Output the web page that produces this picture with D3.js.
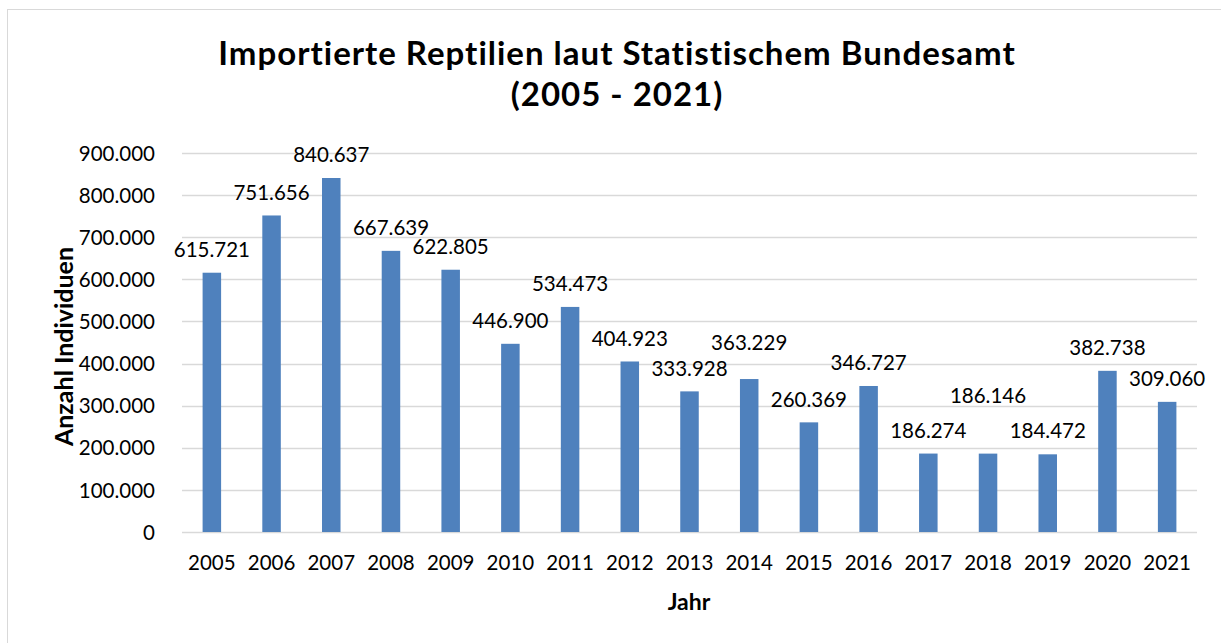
<!DOCTYPE html>
<html>
<head>
<meta charset="utf-8">
<script src="https://cdn.jsdelivr.net/npm/d3@7"></script>
<style>
  body { margin: 0; background: #fff; }
  text { font-family: Lato, "Open Sans", sans-serif; fill: #000; }
</style>
</head>
<body>
<div id="chart"></div>
<script>
// data -----------------------------
var years = ['2005', '2006', '2007', '2008', '2009', '2010', '2011', '2012', '2013',
  '2014', '2015', '2016', '2017', '2018', '2019', '2020', '2021'];
var imports = [615721, 751656, 840637, 667639, 622805, 446900, 534473, 404923, 333928,
  363229, 260369, 346727, 186274, 186146, 184472, 382738, 309060];
var yTicks = [0, 100000, 200000, 300000, 400000, 500000, 600000, 700000, 800000, 900000];

var width = 1221,
  height = 643;
var margin = { left: 182, right: 24, top: 153, bottom: 111 };

// labels that were dragged up by hand in the original to avoid overlaps
var labelLift = { '2014': 13, '2018': 35 };

// german number format with dot as thousands separator
var de = d3.formatLocale({ decimal: ',', thousands: '.', grouping: [3], currency: ['', ' €'] });
var fmt = de.format(',');

var svg = d3.select('#chart').append('svg')
  .attr('width', width)
  .attr('height', height);

// chart frame
svg.append('rect')
  .attr('x', 7.5).attr('y', 9.5)
  .attr('width', width + 10).attr('height', height + 10)
  .attr('fill', 'none')
  .attr('stroke', '#d9d9d9');

var x = d3.scaleBand()
  .domain(years)
  .range([margin.left, width - margin.right])
  .paddingInner(0.69)
  .paddingOuter(0.345);

var y = d3.scaleLinear()
  .domain([0, 900000])
  .range([height - margin.bottom, margin.top]);

// gridlines
svg.append('g')
  .selectAll('line')
  .data(yTicks)
  .enter()
  .append('line')
  .attr('x1', margin.left)
  .attr('x2', width - margin.right)
  .attr('y1', function (d) { return Math.round(y(d)) + 0.5; })
  .attr('y2', function (d) { return Math.round(y(d)) + 0.5; })
  .attr('stroke', '#d9d9d9')
  .attr('stroke-width', 1.5);

// y axis labels
var yAxis = svg.append('g')
  .attr('transform', 'translate(' + (margin.left - 24) + ',0)')
  .call(d3.axisLeft(y).tickValues(yTicks).tickFormat(fmt).tickSize(0));
yAxis.select('.domain').remove();
yAxis.selectAll('text')
  .attr('font-size', 20.5)
  .attr('dy', '0.35em')
  .style('font-family', 'Lato, sans-serif');

// x axis labels
var xAxis = svg.append('g')
  .attr('transform', 'translate(0,' + (height - margin.bottom) + ')')
  .call(d3.axisBottom(x).tickSize(0));
xAxis.select('.domain').remove();
xAxis.selectAll('text')
  .attr('font-size', 20.5)
  .attr('y', 23)
  .attr('dy', '0.71em')
  .style('font-family', 'Lato, sans-serif');

// bars
svg.append('g')
  .selectAll('rect')
  .data(imports)
  .enter()
  .append('rect')
  .attr('x', function (d, i) { return x(years[i]); })
  .attr('y', function (d) { return y(d); })
  .attr('width', x.bandwidth())
  .attr('height', function (d) { return y(0) - y(d); })
  .attr('fill', '#4f81bd');

// value labels
svg.append('g')
  .selectAll('text')
  .data(imports)
  .enter()
  .append('text')
  .attr('x', function (d, i) { return x(years[i]) + x.bandwidth() / 2; })
  .attr('y', function (d, i) { return y(d) - 23 - (labelLift[years[i]] || 0); })
  .attr('dy', '0.35em')
  .attr('text-anchor', 'middle')
  .attr('font-size', 20.5)
  .text(function (d) { return fmt(d); });

// title
var title = svg.append('text')
  .attr('x', 617)
  .attr('y', 65)
  .attr('text-anchor', 'middle')
  .attr('font-size', 33)
  .attr('font-weight', 'bold')
  .style('letter-spacing', '1px');
title.append('tspan').attr('x', 617).text('Importierte Reptilien laut Statistischem Bundesamt');
title.append('tspan').attr('x', 617).attr('dy', 41).text('(2005 - 2021)');

// axis titles
svg.append('text')
  .attr('transform', 'translate(73,' + ((margin.top + height - margin.bottom) / 2 + 4) + ') rotate(-90)')
  .attr('text-anchor', 'middle')
  .attr('font-size', 25)
  .attr('font-weight', 'bold')
  .text('Anzahl Individuen');

svg.append('text')
  .attr('x', 689)
  .attr('y', 610)
  .attr('text-anchor', 'middle')
  .attr('font-size', 23)
  .attr('font-weight', 'bold')
  .text('Jahr');
</script>
</body>
</html>
